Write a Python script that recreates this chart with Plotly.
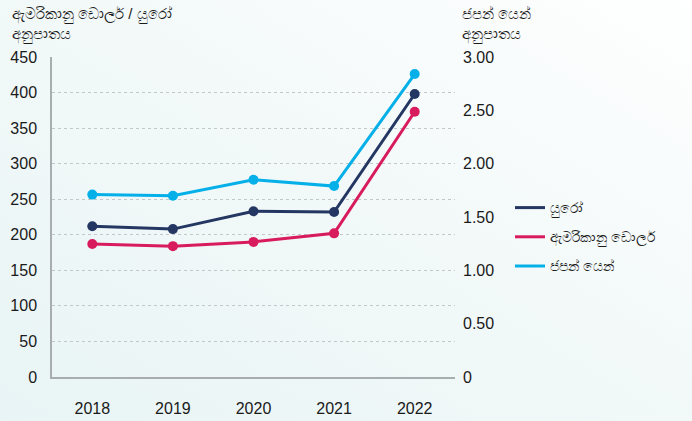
import base64
import plotly.graph_objects as go

years = ["2018", "2019", "2020", "2021", "2022"]
euro = [212, 208, 233, 232, 398]
usd = [187, 184, 190, 202, 373]
yen = [1.71, 1.70, 1.85, 1.79, 2.84]

left_ticks = [0, 50, 100, 150, 200, 250, 300, 350, 400, 450]
right_ticks = [0, 0.5, 1.0, 1.5, 2.0, 2.5, 3.0]
right_labels = ["0", "0.50", "1.00", "1.50", "2.00", "2.50", "3.00"]

navy = "#243763"
pink = "#d81b5d"
cyan = "#05b0e9"
font = "Liberation Sans, Arial, Noto Sans, sans-serif"

# soft background gradient, light teal on the left fading to white
svg = (
    '<svg xmlns="http://www.w3.org/2000/svg" width="720" height="440" preserveAspectRatio="none">'
    '<defs><linearGradient id="g" x1="0" y1="1" x2="1" y2="0">'
    '<stop offset="0" stop-color="#e8f4f5"/><stop offset="0.55" stop-color="#f3f9f9"/>'
    '<stop offset="1" stop-color="#ffffff"/></linearGradient></defs>'
    '<rect width="720" height="440" fill="url(#g)"/></svg>'
)
bg = "data:image/svg+xml;base64," + base64.b64encode(svg.encode()).decode()

W, H = 692, 421
L, R, T, B = 52, 237, 57, 44
pw, ph = W - L - R, H - T - B

fig = go.Figure()
series = [("යුරෝ", euro, navy, "y"), ("ඇමරිකානු ඩොලර්", usd, pink, "y"),
          ("ජපන් යෙන්", yen, cyan, "y2")]
for name, vals, col, ax in series:
    fig.add_trace(go.Scatter(x=years, y=vals, name=name, mode="lines+markers", yaxis=ax,
                             line=dict(color=col, width=3), marker=dict(size=10, color=col),
                             showlegend=False))
# legend entries show only a line, as in the original
for name, vals, col, ax in series:
    fig.add_trace(go.Scatter(x=[None], y=[None], name=name, mode="lines", yaxis=ax,
                             legendgroup=name, line=dict(color=col, width=3)))

fig.update_layout(
    width=W, height=H,
    margin=dict(l=L, r=R, t=T, b=B),
    paper_bgcolor="#f2f8f8",
    plot_bgcolor="rgba(0,0,0,0)",
    font=dict(family=font, color="#1a1a1a"),
    images=[dict(source=bg, xref="paper", yref="paper", x=-L / pw, y=(H - B) / ph,
                 sizex=(W + 28) / pw, sizey=(H + 19) / ph, sizing="stretch", layer="below",
                 xanchor="left", yanchor="top")],
    xaxis=dict(
        type="category", range=[-0.5, 4.5], showgrid=False, automargin=False,
        showline=True, linecolor="#a8adb0", linewidth=1.5,
        ticks="", ticklabelstandoff=16, tickfont=dict(size=16),
    ),
    yaxis=dict(
        range=[0, 450], tickvals=left_ticks, showline=True, linecolor="#a8adb0", linewidth=1.5,
        gridcolor="#c3c7c9", griddash="dot", gridwidth=1, zeroline=False, automargin=False,
        ticks="", ticklabelstandoff=10, tickfont=dict(size=16),
    ),
    yaxis2=dict(
        range=[0, 3], overlaying="y", side="right", tickvals=right_ticks,
        ticktext=right_labels, showgrid=False, zeroline=False, showline=False,
        automargin=False, ticks="", ticklabelstandoff=7, tickfont=dict(size=16),
    ),
    legend=dict(x=(510 - L) / pw, y=(H - B - 237) / ph, xanchor="left", yanchor="middle",
                bgcolor="rgba(0,0,0,0)", font=dict(size=14), tracegroupgap=8,
                itemwidth=30),
    annotations=[
        dict(text="ඇමරිකානු ඩොලර් / යුරෝ<br>අනුපාතය", xref="paper", yref="paper",
             x=-(L - 10) / pw, y=(H - B - 3) / ph, xanchor="left", yanchor="top",
             showarrow=False, align="left", font=dict(size=15)),
        dict(text="ජපන් යෙන්<br>අනුපාතය", xref="paper", yref="paper",
             x=(460 - L) / pw, y=(H - B - 3) / ph, xanchor="left", yanchor="top",
             showarrow=False, align="left", font=dict(size=15)),
    ],
)

fig.write_html("out.html", config={"displayModeBar": False},
               post_script="document.body.style.margin='0';document.body.style.overflow='hidden';")
